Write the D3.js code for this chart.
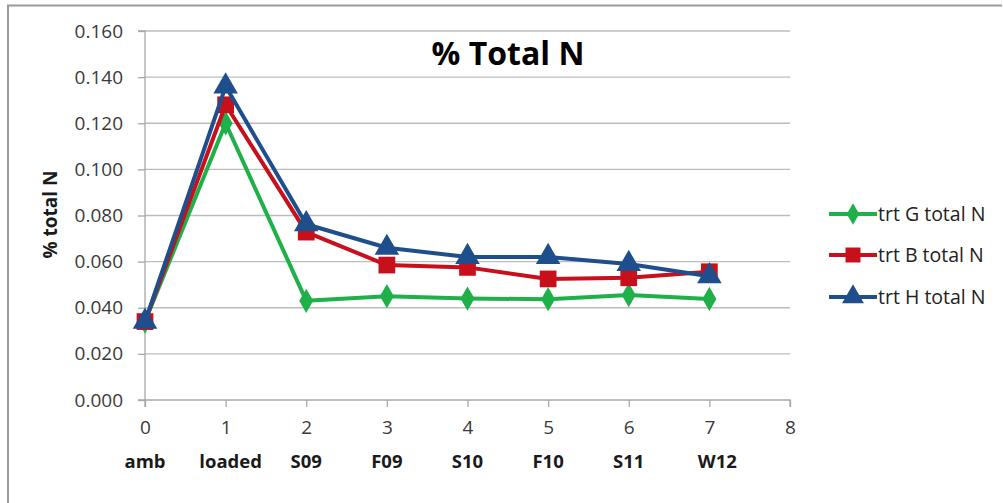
<!DOCTYPE html>
<html>
<head>
<meta charset="utf-8">
<script src="https://cdn.jsdelivr.net/npm/d3@7"></script>
<style>
  html, body { margin: 0; padding: 0; background: #fff; }
  svg { display: block; font-family: "Open Sans", Lato, sans-serif; }
</style>
</head>
<body>
<svg id="chart" width="1003" height="503"></svg>
<script>
// sample positions and their season labels
const xValues = [0, 1, 2, 3, 4, 5, 6, 7];
const seasonLabels = ["amb", "loaded", "S09", "F09", "S10", "F10", "S11", "W12"];
const xTicks = [0, 1, 2, 3, 4, 5, 6, 7, 8];
const yTicks = [0, 0.02, 0.04, 0.06, 0.08, 0.10, 0.12, 0.14, 0.16];

// % total N per treatment
const trtG = [0.034, 0.120, 0.043, 0.045, 0.044, 0.0437, 0.0455, 0.0438];
const trtB = [0.034, 0.128, 0.0728, 0.0585, 0.0575, 0.0525, 0.053, 0.0556];
const trtH = [0.034, 0.136, 0.0762, 0.066, 0.062, 0.062, 0.059, 0.0537];

const seriesNames = ["trt G total N", "trt B total N", "trt H total N"];
const seriesColors = ["#1fb04a", "#c8101c", "#1f4e8c"];
const seriesShapes = [d3.symbolDiamond, d3.symbolSquare, d3.symbolTriangle];

const series = [trtG, trtB, trtH].map((vals, i) => ({
  name: seriesNames[i], color: seriesColors[i], shape: seriesShapes[i],
  points: vals.map((v, j) => ({ x: xValues[j], y: v }))
}));

const svg = d3.select("#chart");

// outer chart frame
svg.append("path")
  .attr("d", "M8,503 L8,5.5 L1002,5.5")
  .attr("fill", "none").attr("stroke", "#9a9a9a").attr("stroke-width", 2);

const x = d3.scaleLinear().domain([0, 8]).range([145, 790]);
const y = d3.scaleLinear().domain([0, 0.16]).range([400, 31]);

// horizontal gridlines
svg.append("g").selectAll("line").data(yTicks.slice(1)).join("line")
  .attr("x1", x(0)).attr("x2", x(8))
  .attr("y1", d => y(d)).attr("y2", d => y(d))
  .attr("stroke", "#bcbcbc").attr("stroke-width", 1.3);

// y axis
const yAxis = svg.append("g").attr("transform", `translate(${x(0)},0)`)
  .call(d3.axisLeft(y).tickValues(yTicks).tickFormat(d3.format(".3f")).tickSize(7).tickPadding(15));
yAxis.select(".domain").attr("stroke", "#a8a8a8").attr("stroke-width", 1.3).attr("d", `M-7,${y(0.16)}H0V${y(0)}H-7`);
yAxis.selectAll(".tick line").attr("stroke", "#a8a8a8").attr("stroke-width", 1.3);
yAxis.selectAll(".tick text").attr("fill", "#3a3a3a").style("font-size", "19px")
  .style("font-family", "'Open Sans', sans-serif");

// x axis
const xAxis = svg.append("g").attr("transform", `translate(0,${y(0)})`)
  .call(d3.axisBottom(x).tickValues(xTicks).tickFormat(d3.format("d")).tickSize(7).tickPadding(14));
xAxis.select(".domain").attr("stroke", "#a8a8a8").attr("stroke-width", 1.3).attr("d", `M${x(0)},7V0H${x(8)}V7`);
xAxis.selectAll(".tick line").attr("stroke", "#a8a8a8").attr("stroke-width", 1.3);
xAxis.selectAll(".tick text").attr("fill", "#3a3a3a").style("font-size", "19px")
  .style("font-family", "'Open Sans', sans-serif");

// season labels under the numeric ticks
svg.append("g").selectAll("text").data(seasonLabels).join("text")
  .attr("x", (d, i) => x(xValues[i]) + (i === 1 ? 5 : i === 7 ? 8 : 0))
  .attr("y", 468)
  .attr("text-anchor", "middle")
  .attr("font-weight", "bold").attr("font-size", 18.5).attr("fill", "#1a1a1a")
  .text(d => d);

// y axis title
svg.append("text")
  .attr("transform", `translate(57,${y(0.08) - 1}) rotate(-90)`)
  .attr("text-anchor", "middle")
  .attr("font-weight", "bold").attr("font-size", 19).attr("fill", "#1a1a1a")
  .text("% total N");

// chart title
svg.append("text")
  .attr("x", 508).attr("y", 65)
  .attr("text-anchor", "middle")
  .attr("font-weight", "bold").attr("font-size", 32).attr("fill", "#000")
  .text("% Total N");

// lines and markers
const line = d3.line().x(d => x(d.x)).y(d => y(d.y));
const markerSizes = [170, 280, 260];

series.forEach((s, i) => {
  const g = svg.append("g");
  g.append("path").datum(s.points)
    .attr("d", line).attr("fill", "none")
    .attr("stroke", s.color).attr("stroke-width", 4).attr("stroke-linejoin", "round");
  g.selectAll("path.m").data(s.points).join("path").attr("class", "m")
    .attr("transform", d => `translate(${x(d.x)},${y(d.y)})`)
    .attr("d", d3.symbol().type(s.shape).size(markerSizes[i]))
    .attr("fill", s.color);
});

// legend
const legend = svg.append("g");
const rowY = [214, 255, 297];
series.forEach((s, i) => {
  const r = legend.append("g").attr("transform", `translate(829,${rowY[i]})`);
  r.append("line").attr("x1", 0).attr("x2", 48).attr("y1", 0).attr("y2", 0)
    .attr("stroke", s.color).attr("stroke-width", 4);
  r.append("path").attr("transform", "translate(24,0)")
    .attr("d", d3.symbol().type(s.shape).size(markerSizes[i] * 0.8))
    .attr("fill", s.color);
  r.append("text").attr("x", 49).attr("y", 7)
    .attr("font-size", 19.5).attr("fill", "#222")
    .text(s.name);
});
</script>
</body>
</html>
